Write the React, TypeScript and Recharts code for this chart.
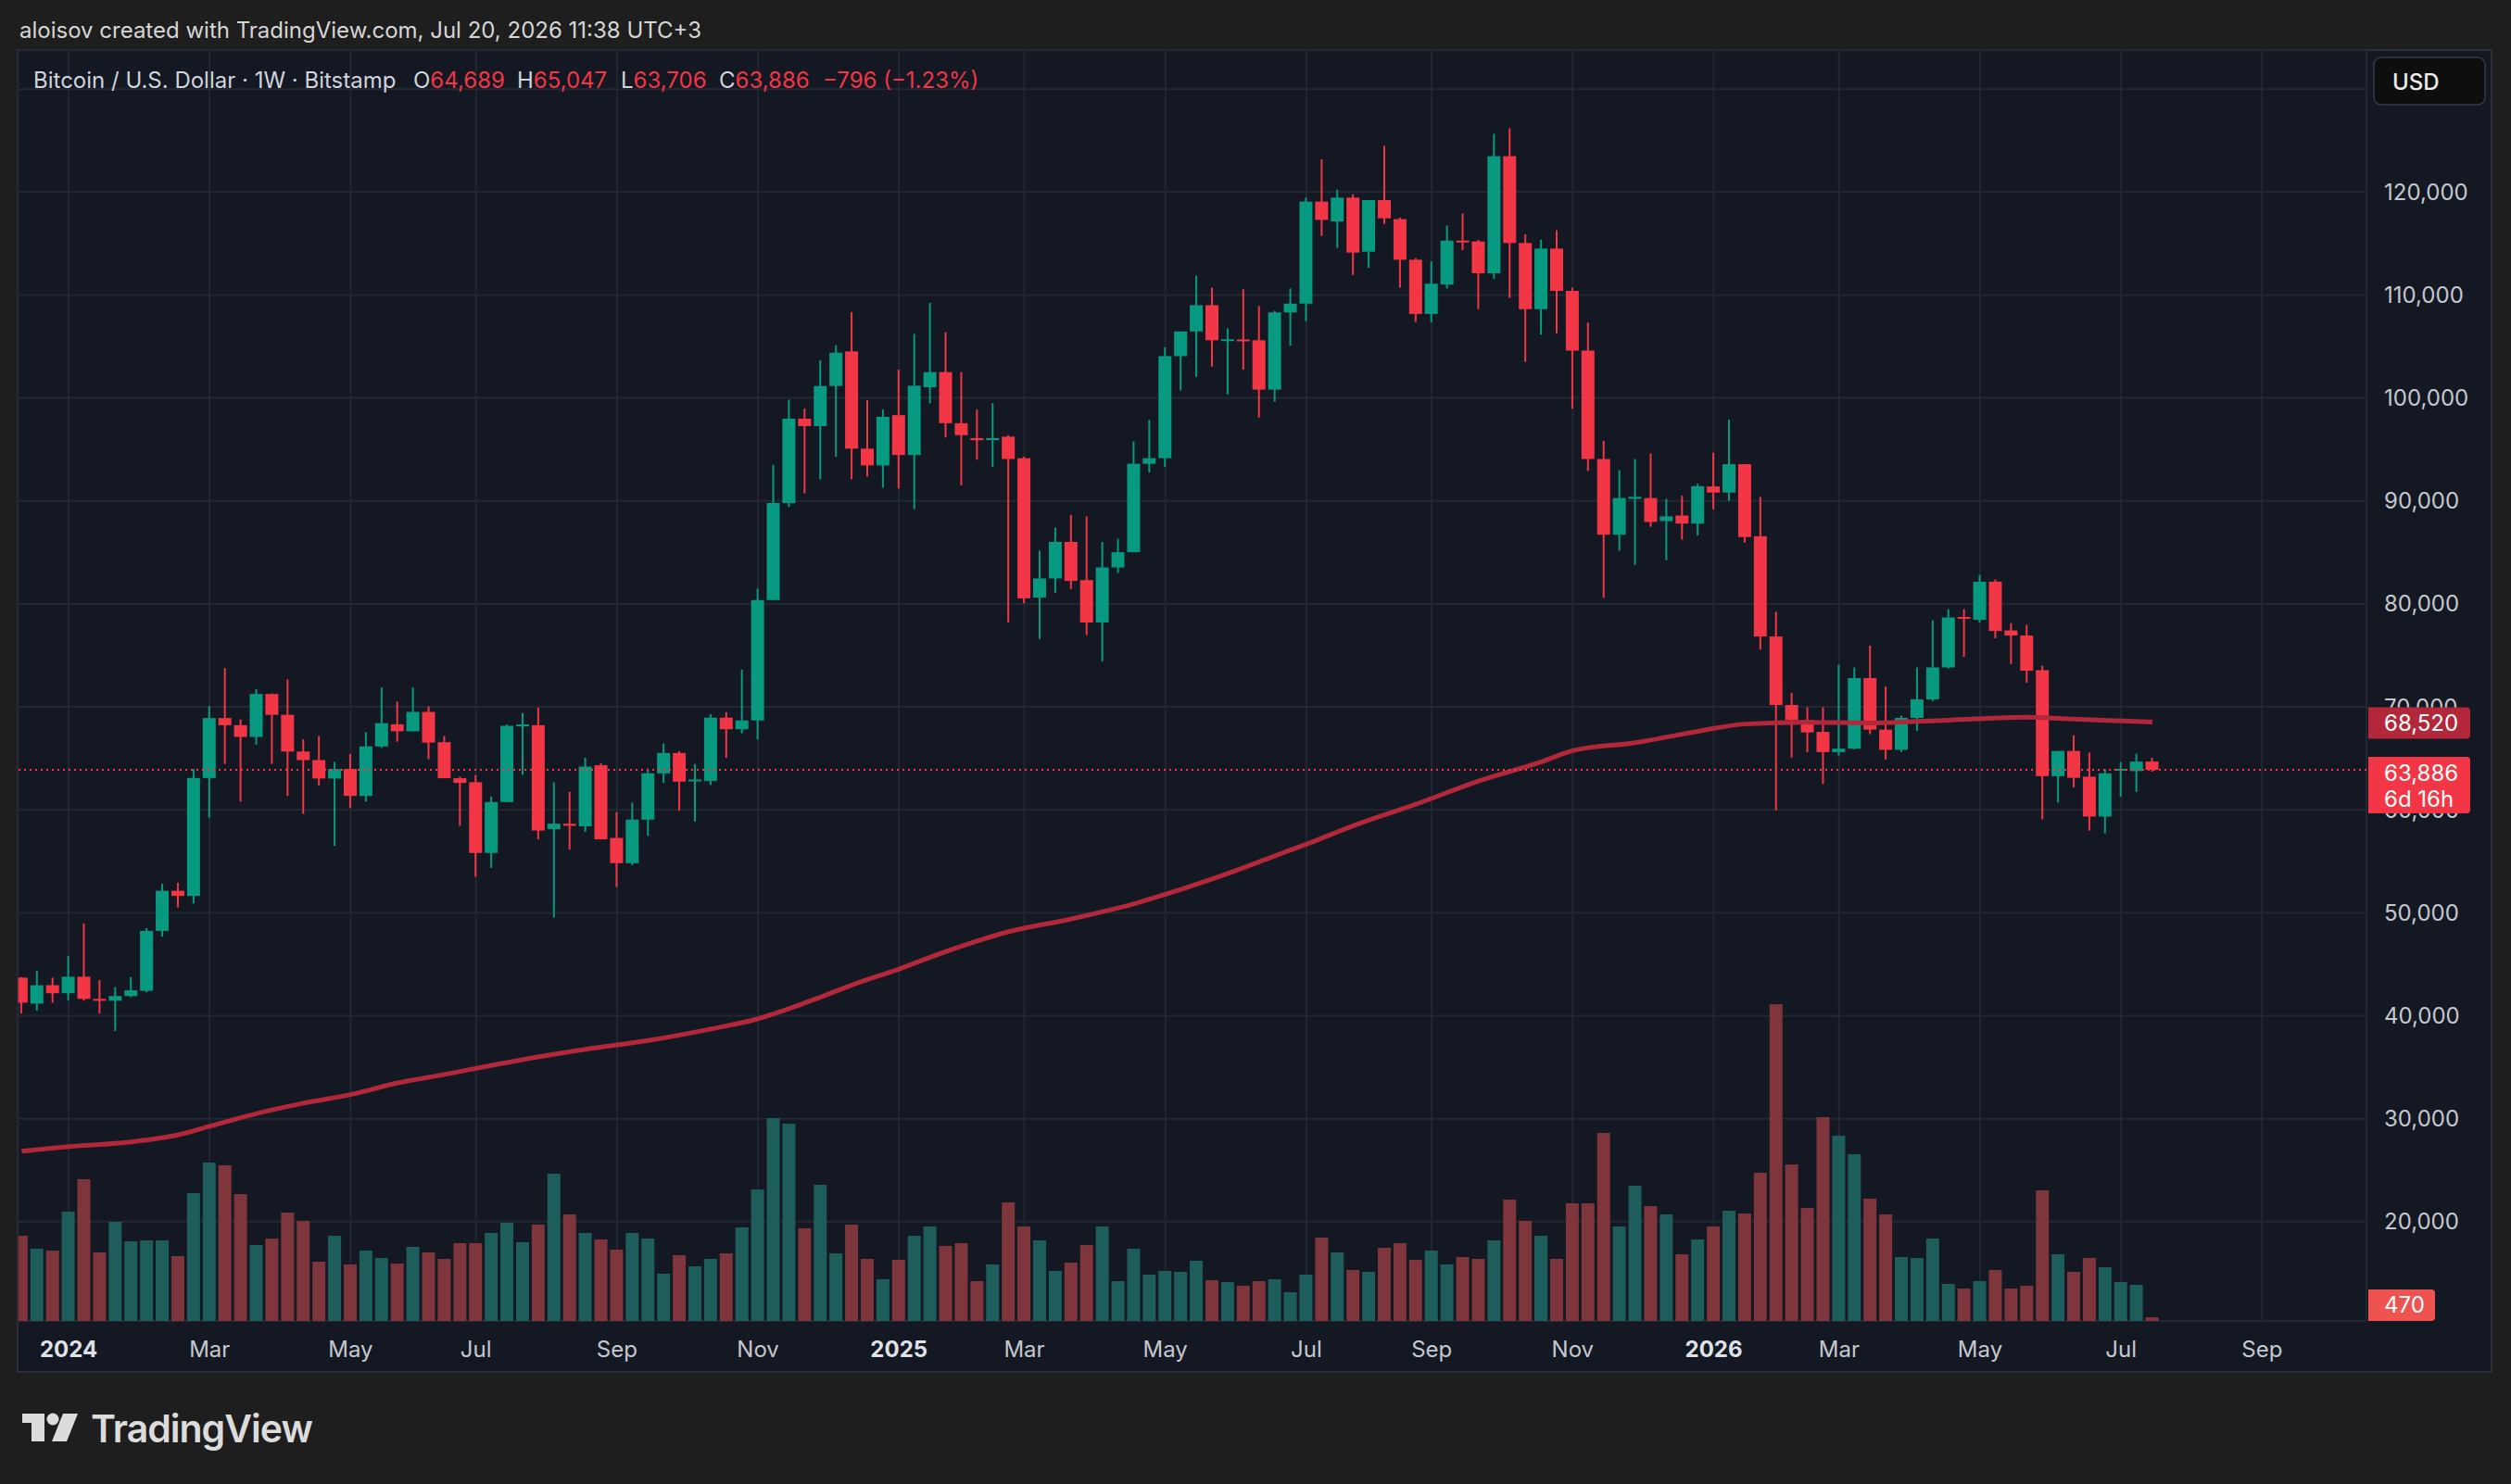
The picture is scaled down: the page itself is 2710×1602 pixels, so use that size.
import React from 'react';
import { ComposedChart, Bar, Line, XAxis, YAxis, CartesianGrid, ReferenceLine } from 'recharts';

// ---------- DATA ----------
const firstWeekUTC = Date.UTC(2023, 11, 11); // week of the first candle
const symbolTitle = 'Bitcoin / U.S. Dollar · 1W · Bitstamp';
const headerText = 'aloisov created with TradingView.com, Jul 20, 2026 11:38 UTC+3';
const countdown = '6d 16h';
const currency = 'USD';

const opens = [
  43700, 41180, 42970, 42190, 43790, 41640, 41460, 41920, 42420, 48240,
  52140, 51630, 63090, 68910, 68220, 67080, 71250, 69230, 65660, 64830,
  63040, 63960, 61350, 66160, 68310, 67630, 69510, 66570, 63070, 62680,
  55810, 60760, 68100, 68220, 58120, 58650, 58390, 64330, 57270, 54820,
  59050, 63540, 65520, 62810, 62810, 68950, 67830, 68680, 80370, 89800,
  97990, 97260, 101160, 104520, 95080, 93450, 98330, 94460, 101040, 102510,
  97550, 96100, 95900, 96240, 94150, 80610, 82470, 86020, 82310, 78200,
  83540, 85020, 93610, 94150, 104060, 106460, 109010, 105600, 105680, 105600,
  100810, 108310, 109160, 119070, 117140, 119460, 114200, 119220, 117370, 113420,
  108160, 111020, 115280, 115200, 112110, 123480, 115050, 108620, 114510, 110400,
  104600, 94070, 86720, 90200, 90280, 88040, 88580, 87800, 91410, 90810,
  93570, 86570, 76830, 70180, 68710, 67570, 65610, 65940, 72800, 67790,
  65830, 68930, 70730, 73830, 78730, 78460, 82160, 77420, 76930, 73560,
  63270, 65720, 63220, 59350, 63850, 63760, 64689,
];
const highs = [
  43750, 44390, 43700, 45810, 48970, 43470, 42790, 43750, 48520, 52820,
  52910, 63960, 70100, 73770, 68770, 71710, 71300, 72670, 66850, 67170,
  64650, 65430, 67530, 71890, 70510, 71890, 70050, 67170, 63210, 63380,
  61290, 68290, 69410, 69940, 62680, 61750, 65050, 64530, 59770, 60700,
  64000, 66440, 65710, 64460, 69280, 69480, 73630, 81490, 93500, 99840,
  98980, 103660, 105120, 108350, 99800, 98870, 102740, 106220, 109240, 106380,
  102510, 98870, 99490, 96390, 94300, 85170, 87420, 88650, 88500, 86020,
  86330, 95780, 97860, 104910, 106460, 111870, 110710, 106760, 110560, 108930,
  108470, 110640, 119460, 123170, 120230, 119770, 119220, 124490, 117520, 113580,
  113270, 116750, 117910, 115360, 125650, 126190, 115900, 115360, 116280, 110710,
  107310, 95850, 92990, 94070, 94610, 90200, 90510, 91670, 94690, 97900,
  93570, 90380, 79220, 71380, 69970, 69970, 74100, 73830, 75950, 71980,
  69150, 73830, 78400, 79490, 79490, 82810, 82380, 78130, 77970, 74000,
  65720, 67240, 65560, 63920, 64630, 65450, 65047,
];
const lows = [
  40220, 40500, 41270, 41460, 41460, 40220, 38520, 41820, 42280, 47690,
  50530, 50900, 59240, 64460, 60800, 66340, 64460, 61350, 59610, 62360,
  56490, 60160, 60800, 66020, 66620, 67630, 64920, 63070, 58450, 53500,
  54360, 60760, 63410, 57130, 49540, 56140, 57860, 57130, 52500, 54630,
  57460, 62610, 59910, 58850, 62410, 65050, 67430, 66840, 80370, 89410,
  90730, 92110, 94290, 92110, 92370, 91280, 91210, 89200, 99490, 96160,
  91520, 94000, 93300, 78200, 80060, 76580, 81070, 81450, 76970, 74410,
  83000, 85020, 92760, 93300, 100730, 102040, 103050, 100340, 102740, 98100,
  99640, 105070, 107460, 115740, 114580, 111950, 112650, 116900, 110710, 107380,
  107310, 110630, 114350, 108620, 111560, 109710, 103510, 106150, 106300, 98950,
  92910, 80600, 85170, 83780, 87490, 84240, 86250, 86640, 89190, 90000,
  85950, 75570, 59950, 65070, 65610, 62510, 65280, 65880, 67350, 64900,
  65610, 67680, 70560, 73720, 74870, 78190, 76660, 74160, 72360, 59080,
  60710, 62180, 57990, 57720, 61260, 61750, 63706,
];
const closes = [
  41270, 42970, 42190, 43790, 41640, 41550, 41920, 42470, 48240, 52140,
  51630, 63090, 68910, 68220, 67080, 71250, 69230, 65660, 64830, 63040,
  63960, 61350, 66160, 68410, 67630, 69510, 66530, 63070, 62610, 55810,
  60760, 68160, 68290, 57990, 58650, 58450, 64200, 57130, 54820, 59050,
  63540, 65520, 62740, 62940, 68950, 67830, 68680, 80370, 89800, 97990,
  97260, 101160, 104390, 95080, 93450, 98170, 94460, 101190, 102510, 97550,
  96390, 95900, 96100, 94070, 80540, 82470, 86020, 82230, 78200, 83540,
  85020, 93610, 94150, 104060, 106460, 109010, 105600, 105700, 105500, 100810,
  108310, 109160, 119070, 117290, 119460, 114120, 119220, 117450, 113420, 108160,
  111100, 115280, 115120, 112110, 123480, 115050, 108620, 114510, 110400, 104600,
  94070, 86720, 90280, 90400, 87960, 88500, 87800, 91440, 90810, 93570,
  86490, 76830, 70180, 68710, 67520, 65610, 65940, 72800, 67790, 65830,
  68930, 70730, 73830, 78680, 78620, 82160, 77370, 76930, 73510, 63270,
  65720, 63110, 59350, 63540, 63980, 64682, 63886,
];
const volumes = [
  10760, 9130, 8890, 13810, 17900, 8660, 12520, 10060, 10180, 10180,
  8190, 16150, 20010, 19660, 16030, 9590, 10410, 13690, 12640, 7490,
  10760, 7140, 8890, 7960, 7250, 9360, 8660, 7840, 9830, 9830,
  11120, 12400, 9950, 12170, 18600, 13460, 11120, 10300, 9010, 11120,
  10410, 5970, 8310, 6900, 7840, 8540, 11820, 16610, 25620, 24920,
  11700, 17200, 8540, 12170, 7840, 5270, 7720, 10760, 11930, 9480,
  9830, 5030, 7140, 14980, 11930, 10180, 6320, 7370, 9590, 11930,
  5030, 9130, 5850, 6320, 6200, 7610, 5150, 4910, 4450, 5030,
  5270, 3630, 5850, 10530, 8660, 6440, 6200, 9240, 9830, 7720,
  8890, 7140, 8070, 7840, 10180, 15330, 12640, 10760, 7840, 14860,
  14860, 23750, 11930, 17080, 14510, 13460, 8420, 10300, 11930, 13920,
  13570, 18720, 40010, 19770, 14270, 25740, 23400, 21060, 15440, 13460,
  8070, 7960, 10410, 4680, 4100, 5030, 6440, 4100, 4450, 16500,
  8420, 6200, 7960, 6790, 4910, 4560, 470,
];
// moving average read at selected weeks (week number -> value)
const maWeeks = [1, 4, 8, 11, 13, 16, 19, 22, 25, 28, 30, 33, 37, 41, 45, 48, 50, 52, 54, 57, 60, 64, 68, 72, 75, 78, 81, 83, 86, 90, 94, 98, 100, 104, 108, 111, 115, 119, 124, 129, 132, 137];
const maValues = [26840, 27290, 27750, 28440, 29270, 30500, 31510, 32340, 33480, 34300, 34890, 35750, 36740, 37600, 38720, 39710, 40700, 41820, 42990, 44540, 46240, 48170, 49410, 50880, 52280, 53820, 55530, 56660, 58460, 60550, 62800, 64660, 65740, 66520, 67630, 68330, 68500, 68440, 68710, 68990, 68820, 68520];

const priceTicks = [20000, 30000, 40000, 50000, 60000, 70000, 80000, 90000, 100000, 110000, 120000, 130000];
const labeledPriceMax = 120000;
const monthNames = ['Jan', 'Feb', 'Mar', 'Apr', 'May', 'Jun', 'Jul', 'Aug', 'Sep', 'Oct', 'Nov', 'Dec'];

// ---------- STYLE ----------
const W = 2710;
const H = 1602;
const UP = '#089981';
const DOWN = '#f23645';
const VOL_UP = '#1d5e5c';
const VOL_DOWN = '#7e353b';
const MA_COLOR = '#b2283a';
const GRID = '#232733';
const AXIS_TEXT = '#c5c8cf';
const LEGEND_TEXT = '#d1d4dc';
const FONT = 'Inter, "Noto Sans", sans-serif';
const X_DOMAIN: [number, number] = [0.78, 150.66];
const PRICE_DOMAIN: [number, number] = [10360, 133790];
const VOL_DOMAIN: [number, number] = [0, 160520];
const PLOT_BOTTOM = 1426;
const PRICE_AXIS_W = 156;
const TIME_AXIS_H = 40;

// ---------- BUILD ----------
const weekDate = (i: number) => new Date(firstWeekUTC + (i - 1) * 7 * 86400000);
const data = opens.map((o, k) => {
  const i = k + 1;
  const mIdx = maWeeks.indexOf(i);
  return {
    i,
    open: o,
    high: highs[k],
    low: lows[k],
    close: closes[k],
    vol: volumes[k],
    ma: mIdx >= 0 ? maValues[mIdx] : null,
  };
});

const timeTicks: number[] = [];
const timeLabels: Record<number, { text: string; bold: boolean }> = {};
for (let i = 2; i <= Math.floor(X_DOMAIN[1]); i++) {
  const d = weekDate(i);
  const p = weekDate(i - 1);
  if (d.getUTCMonth() !== p.getUTCMonth() && d.getUTCMonth() % 2 === 0) {
    timeTicks.push(i);
    const m = d.getUTCMonth();
    timeLabels[i] = m === 0 ? { text: String(d.getUTCFullYear()), bold: true } : { text: monthNames[m], bold: false };
  }
}

const fmt = (v: number) => v.toLocaleString('en-US');
const last = data[data.length - 1];
const prev = data[data.length - 2];
const change = last.close - prev.close;
const changePct = (change / prev.close) * 100;
const minus = (v: number) => (v < 0 ? '\u2212' : '+');
const changeText = `${minus(change)}${fmt(Math.abs(change))} (${minus(change)}${Math.abs(changePct).toFixed(2)}%)`;
const maLast = maValues[maValues.length - 1];
const ohlcItems = [
  { k: 'O', v: last.open, x: 446 },
  { k: 'H', v: last.high, x: 558 },
  { k: 'L', v: last.low, x: 670 },
  { k: 'C', v: last.close, x: 776 },
];

// ---------- SHAPES ----------
const CandleShape = (props: any) => {
  const { x, y, width, height, payload } = props;
  if (!payload || payload.open == null) return <g />;
  const top = Math.min(y, y + height);
  const h = Math.abs(height);
  const { open, close, high, low } = payload;
  const k = h / Math.max(high - low, 1e-9);
  const yo = top + (high - open) * k;
  const yc = top + (high - close) * k;
  const color = close >= open ? UP : DOWN;
  const cx = x + width / 2;
  const bt = Math.min(yo, yc);
  const bh = Math.max(Math.abs(yo - yc), 2);
  return (
    <g>
      <rect x={cx - 1} y={top} width={2} height={Math.max(h, 1)} fill={color} />
      <rect x={x} y={bt} width={width} height={bh} fill={color} />
    </g>
  );
};

const VolumeShape = (props: any) => {
  const { x, y, width, height, payload } = props;
  const top = Math.min(y, y + height);
  const h = Math.abs(height);
  return <rect x={x} y={top} width={width} height={h} fill={payload.close >= payload.open ? VOL_UP : VOL_DOWN} />;
};

const PriceTick = (p: any) => {
  const v = p.payload.value;
  if (v > labeledPriceMax) return <g />;
  return (
    <text x={p.x} y={p.y} textAnchor="start" dominantBaseline="central" fill={AXIS_TEXT} fontSize={24} fontFamily={FONT}>
      {fmt(v)}
    </text>
  );
};

const TimeTick = (p: any) => {
  const lab = timeLabels[p.payload.value];
  if (!lab) return <g />;
  return (
    <text
      x={p.x}
      y={p.y + 30}
      textAnchor="middle"
      dominantBaseline="central"
      fill={lab.bold ? '#dfe2e8' : AXIS_TEXT}
      fontWeight={lab.bold ? 700 : 400}
      fontSize={24}
      fontFamily={FONT}
    >
      {lab.text}
    </text>
  );
};

const Tag = ({ viewBox, bg, lines, w, h, dyTop }: any) => {
  if (!viewBox) return <g />;
  const right = viewBox.x + viewBox.width;
  const y0 = viewBox.y + dyTop;
  return (
    <g>
      <path
        d={`M${right + 2},${y0} h${w - 4} a4,4 0 0 1 4,4 v${h - 8} a4,4 0 0 1 -4,4 h${-(w - 4)} z`}
        fill={bg}
      />
      {lines.map((t: string, k: number) => (
        <text
          key={k}
          x={right + 19}
          y={y0 + 17 + k * 28}
          dominantBaseline="central"
          fill="#ffffff"
          fontSize={24}
          fontFamily={FONT}
        >
          {t}
        </text>
      ))}
    </g>
  );
};

// ---------- APP ----------
export default function App() {
  return (
    <div style={{ position: 'absolute', left: 0, top: 0, width: W, height: H, background: '#1e1e1e', overflow: 'hidden' }}>
      <div
        style={{
          position: 'absolute',
          left: 18,
          top: 53,
          width: 2672,
          height: 1429,
          background: '#141823',
          border: '2px solid #2b2e36',
          boxSizing: 'border-box',
        }}
      />
      {/* main chart */}
      <div style={{ position: 'absolute', left: 0, top: 0 }}>
        <ComposedChart width={W} height={H} data={data} margin={{ top: 54, left: 19.6, right: 0, bottom: H - PLOT_BOTTOM - TIME_AXIS_H }}>
          <XAxis
            xAxisId="main"
            dataKey="i"
            type="number"
            domain={X_DOMAIN}
            allowDataOverflow
            ticks={timeTicks}
            interval={0}
            tickLine={false}
            axisLine={false}
            tickSize={0}
            tickMargin={0}
            height={TIME_AXIS_H}
            tick={TimeTick}
          />
          <XAxis xAxisId="vol" dataKey="i" type="number" domain={X_DOMAIN} allowDataOverflow hide />
          <YAxis
            yAxisId="price"
            orientation="right"
            type="number"
            domain={PRICE_DOMAIN}
            allowDataOverflow
            ticks={priceTicks}
            interval={0}
            width={PRICE_AXIS_W}
            tickLine={false}
            axisLine={false}
            tickSize={0}
            tickMargin={19}
            tick={PriceTick}
          />
          <YAxis yAxisId="vol" type="number" domain={VOL_DOMAIN} allowDataOverflow hide />
          <CartesianGrid xAxisId="main" yAxisId="price" stroke={GRID} strokeWidth={2} />
          <Bar xAxisId="vol" yAxisId="vol" dataKey="vol" barSize={14} shape={VolumeShape} isAnimationActive={false} />
          <Line
            xAxisId="main"
            yAxisId="price"
            dataKey="ma"
            type="monotone"
            connectNulls
            dot={false}
            activeDot={false}
            stroke={MA_COLOR}
            strokeWidth={5}
            isAnimationActive={false}
          />
          <Bar
            xAxisId="main"
            yAxisId="price"
            dataKey={(d: any) => [d.low, d.high]}
            barSize={14}
            shape={CandleShape}
            isAnimationActive={false}
          />
          <ReferenceLine xAxisId="main" yAxisId="price" y={last.close} stroke={DOWN} strokeWidth={2} strokeDasharray="2 4" />
        </ComposedChart>
      </div>
      {/* overlay chart for price tags (drawn above the axis labels) */}
      <div style={{ position: 'absolute', left: 0, top: 0, pointerEvents: 'none' }}>
        <ComposedChart width={W} height={H} data={data} margin={{ top: 54, left: 19.6, right: PRICE_AXIS_W, bottom: H - PLOT_BOTTOM }}>
          <XAxis xAxisId="main" dataKey="i" type="number" domain={X_DOMAIN} allowDataOverflow hide />
          <YAxis yAxisId="price" type="number" domain={PRICE_DOMAIN} allowDataOverflow hide />
          <YAxis yAxisId="vol" type="number" domain={VOL_DOMAIN} allowDataOverflow hide />
          <ReferenceLine
            xAxisId="main"
            yAxisId="price"
            y={maLast}
            stroke="none"
            label={(p: any) => <Tag viewBox={p.viewBox} bg={MA_COLOR} lines={[fmt(maLast)]} w={110} h={34} dyTop={-16} />}
          />
          <ReferenceLine
            xAxisId="main"
            yAxisId="price"
            y={last.close}
            stroke="none"
            label={(p: any) => <Tag viewBox={p.viewBox} bg={DOWN} lines={[fmt(last.close), countdown]} w={110} h={61} dyTop={-14} />}
          />
          <ReferenceLine
            xAxisId="main"
            yAxisId="vol"
            y={last.vol}
            stroke="none"
            label={(p: any) => <Tag viewBox={p.viewBox} bg="#ef5350" lines={[fmt(last.vol)]} w={72} h={34} dyTop={-30} />}
          />
        </ComposedChart>
      </div>
      <svg width={W} height={H} style={{ position: 'absolute', left: 0, top: 0, pointerEvents: 'none' }}>
        <text x={21} y={32} dominantBaseline="central" fill="#d6d6d6" fontSize={24} fontFamily={FONT}>
          {headerText}
        </text>
        <g fontSize={24} fontFamily={FONT} dominantBaseline="central">
          <text x={36} y={86} fill={LEGEND_TEXT}>{symbolTitle}</text>
          {ohlcItems.map((it) => (
            <text key={it.k} x={it.x} y={86}>
              <tspan fill={LEGEND_TEXT}>{it.k}</tspan>
              <tspan fill={DOWN}>{fmt(it.v)}</tspan>
            </text>
          ))}
          <text x={888} y={86} fill={DOWN}>{changeText}</text>
        </g>
        <rect x={2562} y={62} width={120} height={51} rx={8} fill="#0e0e0e" stroke="#363a45" strokeWidth={1.5} />
        <text x={2582} y={88} dominantBaseline="central" fill="#ececec" fontSize={24} fontWeight={500} fontFamily={FONT}>
          {currency}
        </text>
        <g fill="#dcdcdc">
          <rect x={24} y={1526} width={24} height={10} />
          <rect x={34} y={1526} width={14} height={30} />
          <circle cx={57} cy={1532} r={6.5} />
          <polygon points="68,1526 84,1526 72,1556 56,1556" />
          <text x={98} y={1557} fontSize={41} fontWeight={600} letterSpacing={-1} fontFamily={FONT}>
            TradingView
          </text>
        </g>
      </svg>
    </div>
  );
}
